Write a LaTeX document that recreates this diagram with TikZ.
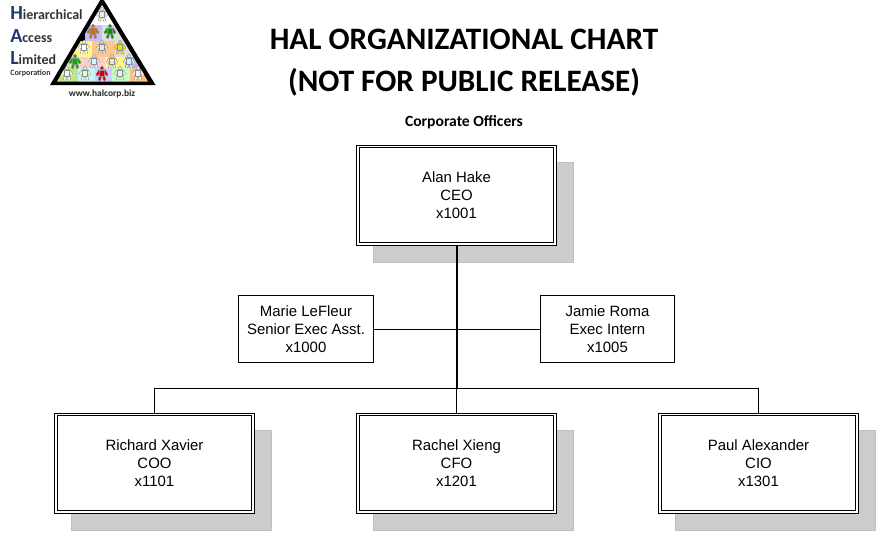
\documentclass[tikz,border=0pt]{standalone}
\usepackage{fontspec}
\setmainfont{Liberation Sans}
\newfontfamily\titlefont{Carlito}
\usetikzlibrary{shadows}
\definecolor{halblue}{RGB}{31,56,110}
\definecolor{halshadow}{RGB}{204,204,204}
\tikzset{
  officer/.style={shape=rectangle, draw, fill=white, line width=0.75pt,
    minimum width=150pt, minimum height=75pt, align=center, font=\fontsize{11.2}{13.5}\selectfont,
    general shadow={fill=halshadow, draw=black!25, line width=0.4pt, shadow xshift=12.6pt, shadow yshift=-12.6pt}},
  staff/.style={shape=rectangle, draw, fill=white, line width=0.75pt,
    minimum width=100.9pt, minimum height=50.6pt, align=center, font=\fontsize{11.2}{13.5}\selectfont},
  logoline/.style={anchor=west, font=\titlefont\bfseries\fontsize{10.5}{11}\selectfont, text=black!80, inner sep=0pt},
  inset/.style={line width=0.75pt},
  limb/.style={line width=1.3pt, line cap=round, line join=round,
    preaction={draw=black!45, line width=2.1pt}}
}
\newcommand{\halcap}[1]{\textcolor{halblue}{\fontsize{15}{15}\selectfont #1}}
\newcommand{\halfigure}[3]{% x, y, colour
  \draw[limb, draw=#3] (#1-5,#2+1) -- (#1-2.5,#2-3) -- (#1+2.5,#2-3) -- (#1+5,#2+1);
  \draw[limb, draw=#3] (#1-2.5,#2+6) -- (#1-1.5,#2+1) (#1+1.5,#2+1) -- (#1+2.5,#2+6);
  \fill[#3, draw=black!45, line width=0.3pt] (#1-2.5,#2-3.5) rectangle (#1+2.5,#2+2);
  \fill[#3, draw=black!45, line width=0.3pt] (#1,#2-6) circle (1.8);
}
\begin{document}
\begin{tikzpicture}[x=0.75pt, y=-0.75pt]
\useasboundingbox (0,0) rectangle (893,543);

% logo
\node[logoline] (hal1) at (10,13) {\halcap{H}ierarchical};
\node[logoline] (hal2) at (10,36) {\halcap{A}ccess};
\node[logoline] (hal3) at (10,58) {\halcap{L}imited};
\node[logoline, font=\titlefont\bfseries\fontsize{6.1}{7}\selectfont] (hal4) at (10,73) {Corporation};
\node[inner sep=0pt, font=\titlefont\bfseries\fontsize{7.1}{8}\selectfont, text=black!85] (halurl) at (102,94) {www.halcorp.biz};
\fill[black] (102,-3) -- (155.5,85) -- (50,85) -- cycle;
\begin{scope}
\clip (102,5) -- (148,81.5) -- (57,81.5) -- cycle;
\fill[white] (50,0) rectangle (155,25);
\fill[blue!25] (85,25) rectangle (102,41);
\fill[gray!25] (102,25) rectangle (130,41);
\fill[yellow!45] (70,41) rectangle (92,57);
\fill[orange!45] (92,41) rectangle (115,57);
\fill[gray!25] (115,41) rectangle (140,57);
\fill[yellow!50!green!35] (60,57) rectangle (80,68);
\fill[red!20] (80,57) rectangle (105,68);
\fill[yellow!50] (105,57) rectangle (125,68);
\fill[blue!30] (125,57) rectangle (145,68);
\fill[yellow!50!green!50] (55,68) rectangle (78,82);
\fill[cyan!20] (78,68) rectangle (95,82);
\fill[blue!20] (95,68) rectangle (112,82);
\fill[green!25] (112,68) rectangle (130,82);
\fill[orange!50] (130,68) rectangle (150,82);
\end{scope}
\halfigure{102}{15}{white!85!gray}
\halfigure{93}{32}{orange!85!black}
\halfigure{110}{32}{green!60!black}
\halfigure{84}{48}{white}
\halfigure{102}{48}{white!80!gray}
\halfigure{120}{48}{yellow!90!black}
\halfigure{75}{62}{green!70!black}
\halfigure{94}{62}{cyan!15}
\halfigure{112}{62}{orange!25}
\halfigure{129}{62}{cyan!20}
\halfigure{67}{74}{green!10}
\halfigure{85}{74}{green!15}
\halfigure{102}{74}{red!85!black}
\halfigure{120}{74}{green!15}
\halfigure{138}{74}{orange!10}

% heading
\node[font=\titlefont\bfseries\fontsize{23.4}{31.5}\selectfont, align=center] (title) at (464,63) {HAL ORGANIZATIONAL CHART\\(NOT FOR PUBLIC RELEASE)};
\node[font=\titlefont\bfseries\fontsize{11.7}{13}\selectfont] (group) at (464,122) {Corporate Officers};

% people
\node[officer] (ceo) at (456.5,195) {Alan Hake\\CEO\\x1001};
\node[staff] (asst) at (306,329) {Marie LeFleur\\Senior Exec Asst.\\x1000};
\node[staff] (intern) at (607.5,329) {Jamie Roma\\Exec Intern\\x1005};
\node[officer] (coo) at (154.5,463) {Richard Xavier\\COO\\x1101};
\node[officer] (cfo) at (456.5,463) {Rachel Xieng\\CFO\\x1201};
\node[officer] (cio) at (758.5,463) {Paul Alexander\\CIO\\x1301};

% inner frames
\foreach \n in {ceo,coo,cfo,cio}
  \draw[inset] ([shift={(3.3,3.3)}]\n.north west) rectangle ([shift={(-3.3,-3.3)}]\n.south east);

% lines
\coordinate (bus) at (ceo.south |- 0,388);
\draw[line width=1.5pt] (ceo.south) -- (bus);
\draw[line width=0.75pt] (bus) -- (cfo.north);
\draw[line width=0.75pt] (asst) -- (intern);
\draw[line width=0.75pt] (coo.north) -- (coo.north |- bus) -- (cio.north |- bus) -- (cio.north);
\end{tikzpicture}
\end{document}
